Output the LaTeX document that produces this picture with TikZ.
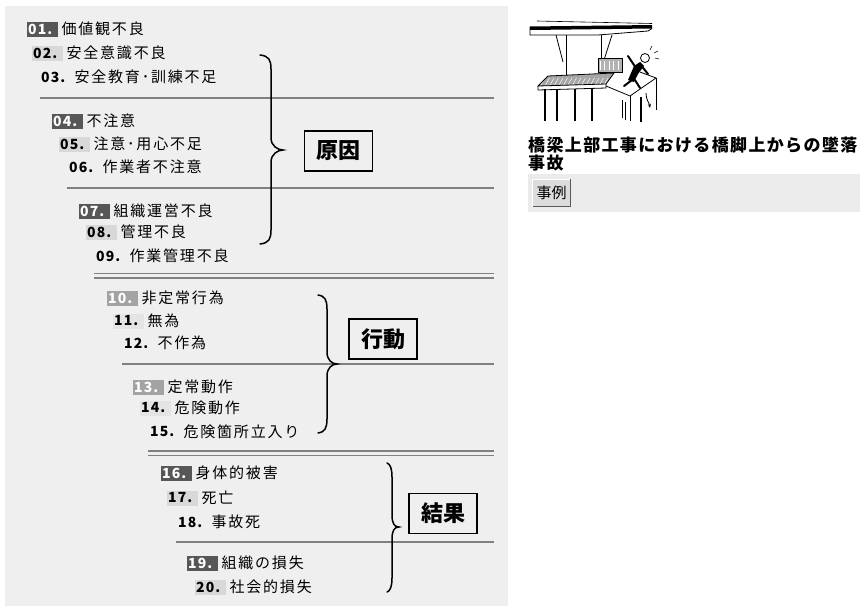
\documentclass[tikz,border=0pt]{standalone}
\usepackage{fontspec}
\usetikzlibrary{positioning,arrows.meta}
\newfontfamily\jptext[LetterSpace=12]{Noto Sans CJK JP}
\newfontfamily\jpnum[LetterSpace=8]{Noto Sans CJK JP}
\newfontfamily\jpcap[LetterSpace=8]{Noto Sans CJK JP}
\newfontfamily\jptag{Noto Sans CJK JP}

\definecolor{panelbg}{HTML}{EFEFEF}
\definecolor{bardk}{HTML}{575757}
\definecolor{barlt}{HTML}{D8D8D8}
\definecolor{barmd}{HTML}{A3A3A3}
\definecolor{barpl}{HTML}{E4E4E4}
\definecolor{rulegray}{HTML}{808080}
\definecolor{stripbg}{HTML}{EBEBEB}
\definecolor{btnface}{HTML}{DCDCDC}

\newcommand\numtxt[1]{\makebox[29pt][l]{#1}}
% curly brace: spine x, top y, tip y, bottom y, end offset, tip offset
\newcommand\drawcurly[6]{%
  \draw[bracket] (#1-#5,#2) .. controls (#1-2,#2+1) and (#1,#2+5) .. (#1,#2+14)
    -- (#1,#3-12) .. controls (#1,#3-4) and (#1+#6-5,#3) .. (#1+#6,#3)
    .. controls (#1+#6-5,#3) and (#1,#3+4) .. (#1,#3+12)
    -- (#1,#4-14) .. controls (#1,#4-5) and (#1-2,#4-1) .. (#1-#5,#4);}

\tikzset{
  num/.style={anchor=west, font=\jpnum\bfseries\fontsize{14}{14}\selectfont,
    minimum width=31pt, minimum height=15pt, inner xsep=1pt, inner ysep=0pt},
  numdk/.style={num, fill=bardk, text=white},
  numlt/.style={num, fill=barlt},
  nummd/.style={num, fill=barmd, text=white},
  numpl/.style={num, fill=barpl},
  numpn/.style={num},
  item/.style={right=3pt of #1, font=\jptext\fontsize{15}{15}\selectfont, inner sep=0pt},
  rule/.style={draw=rulegray, line width=1.3pt},
  bracket/.style={draw=black, line width=1.5pt, line cap=round},
  tagbox/.style={draw=black, line width=1.3pt, minimum width=68pt, minimum height=40pt,
    inner sep=0pt, font=\jptag\bfseries\fontsize{22}{22}\selectfont},
  sketch/.style={draw=black, line width=0.8pt},
}

\begin{document}
\begin{tikzpicture}[x=1pt,y=-1pt]
\useasboundingbox (0,0) rectangle (860,606);
\fill[white] (0,0) rectangle (860,606);
\fill[panelbg] (5,6) rectangle (508,606);

% separators
\draw[rule] (40,98) -- (494,98);
\draw[rule] (67,188) -- (494,188);
\draw[rule] (94,273.5) -- (494,273.5);
\draw[rule] (94,278) -- (494,278);
\draw[rule] (122,364) -- (494,364);
\draw[rule] (148,451) -- (494,451);
\draw[rule] (148,455.5) -- (494,455.5);
\draw[rule] (176,542) -- (494,542);

% cause items
\node[numdk] (n01) at (27,29) {\numtxt{01.}};
\node[item=n01] (t01) {価値観不良};
\node[numlt] (n02) at (32,53) {\numtxt{02.}};
\node[item=n02] (t02) {安全意識不良};
\node[numpn] (n03) at (40,77) {\numtxt{03.}};
\node[item=n03] (t03) {安全教育･訓練不足};
\node[numdk] (n04) at (52,121) {\numtxt{04.}};
\node[item=n04] (t04) {不注意};
\node[numlt] (n05) at (59,144) {\numtxt{05.}};
\node[item=n05] (t05) {注意･用心不足};
\node[numpn] (n06) at (68,167) {\numtxt{06.}};
\node[item=n06] (t06) {作業者不注意};
\node[numdk] (n07) at (79,211) {\numtxt{07.}};
\node[item=n07] (t07) {組織運営不良};
\node[numlt] (n08) at (86,232) {\numtxt{08.}};
\node[item=n08] (t08) {管理不良};
\node[numpn] (n09) at (95,256) {\numtxt{09.}};
\node[item=n09] (t09) {作業管理不良};

% action items
\node[nummd] (n10) at (107,298) {\numtxt{10.}};
\node[item=n10] (t10) {非定常行為};
\node[numpl] (n11) at (113,321) {\numtxt{11.}};
\node[item=n11] (t11) {無為};
\node[numpn] (n12) at (123,343) {\numtxt{12.}};
\node[item=n12] (t12) {不作為};
\node[nummd] (n13) at (133,387) {\numtxt{13.}};
\node[item=n13] (t13) {定常動作};
\node[numpl] (n14) at (140,408) {\numtxt{14.}};
\node[item=n14] (t14) {危険動作};
\node[numpn] (n15) at (149,432) {\numtxt{15.}};
\node[item=n15] (t15) {危険箇所立入り};

% result items
\node[numdk] (n16) at (161,473) {\numtxt{16.}};
\node[item=n16] (t16) {身体的被害};
\node[numlt] (n17) at (167,498) {\numtxt{17.}};
\node[item=n17] (t17) {死亡};
\node[numpn] (n18) at (177,522) {\numtxt{18.}};
\node[item=n18] (t18) {事故死};
\node[numdk] (n19) at (187,563) {\numtxt{19.}};
\node[item=n19] (t19) {組織の損失};
\node[numlt] (n20) at (195,587) {\numtxt{20.}};
\node[item=n20] (t20) {社会的損失};

% braces and group labels
\drawcurly{271}{55}{150}{244}{11}{12}
\drawcurly{327}{295}{364}{433}{9}{10}
\drawcurly{392}{463}{527}{592}{5}{7}
\node[tagbox] (cause) at (338.5,151) {原因};
\node[tagbox] (act) at (383,339) {行動};
\node[tagbox] (res) at (443,513.5) {結果};

% sketch of the accident: bridge girder, grating platform, pier and falling worker
\begin{scope}
  \fill[black] (530,26.5) -- (652,25) -- (652,28.5) -- (530,30) -- cycle;
  \draw[sketch, line width=0.6pt] (537,21) -- (652,23.5);
  \draw[sketch] (530,26.5) -- (530,35) -- (598,35) -- (648,31) -- (652,28.5);
  \draw[sketch] (556,35) -- (563,62);
  \draw[sketch] (566,35) -- (566,80);
  \draw[sketch] (601,35) -- (601,78);
  \draw[sketch] (612,35) -- (604,60);
  % grating
  \fill[gray!70] (538,86) -- (548,76) -- (614,73) -- (606,84) -- cycle;
  \foreach \k in {0,...,14} {\draw[white, line width=0.5pt] (545+4.5*\k,78) -- (541+4.5*\k,85);}
  \draw[sketch] (538,86) -- (548,76) -- (614,73) -- (606,84) -- cycle;
  \draw[sketch] (538,86) -- (538,90) -- (606,88) -- (606,84);
  % girder piece being placed
  \fill[gray!60] (598,58) rectangle (622,72);
  \draw[sketch] (598,58) rectangle (622,72);
  \foreach \k in {0,...,4} {\draw[white, line width=0.5pt] (600+4.5*\k,61) -- (600+4.5*\k,70);}
  % legs
  \foreach \lx in {545,557,575,592} {\draw[sketch, line width=1.2pt] (\lx,89) -- (\lx,121);}
  % pier
  \draw[sketch] (606,86) -- (630,96) -- (656,78) -- (640,72);
  \draw[sketch] (630,96) -- (630,121);
  \draw[sketch, line width=1.4pt] (641,97) -- (641,122);
  \draw[sketch] (656,78) -- (656,110);
  \draw[sketch, line width=0.5pt] (622,100) -- (622,118) (625,102) -- (625,120);
  % worker
  \fill[black] (628,80) -- (634,66) -- (640,62) -- (644,66) -- (638,74) -- (634,82) -- cycle;
  \draw[black, line width=2pt, line cap=round] (636,68) -- (628,56) (640,64) -- (648,74) (632,80) -- (624,86) (635,80) -- (640,88);
  \draw[sketch, fill=white] (645,58) circle (4.5);
  \draw[sketch, line width=0.6pt] (650,50) -- (652,46) (654,53) -- (658,51) (655,58) -- (659,59);
  % fall arrow
  \draw[sketch, -{Stealth[length=4pt]}] (646,93) .. controls (646,100) and (649,102) .. (650,108);
\end{scope}

% caption and case button
\node[anchor=west, inner sep=0pt, font=\jpcap\bfseries\fontsize{17}{17}\selectfont] (cap1) at (528,145) {橋梁上部工事における橋脚上からの墜落};
\node[anchor=west, inner sep=0pt, font=\jpcap\bfseries\fontsize{17}{17}\selectfont] (cap2) at (528,163) {事故};
\fill[stripbg] (528,174) rectangle (860,212);
\node[fill=btnface, minimum width=37pt, minimum height=27pt, inner sep=0pt,
  font=\jptag\fontsize{15}{15}\selectfont] (btn) at (551.5,193) {事例};
\draw[white, line width=1pt] (btn.south west) -- (btn.north west) -- (btn.north east);
\draw[gray!70!black, line width=1.2pt] (btn.north east) -- (btn.south east) -- (btn.south west);
\end{tikzpicture}
\end{document}
